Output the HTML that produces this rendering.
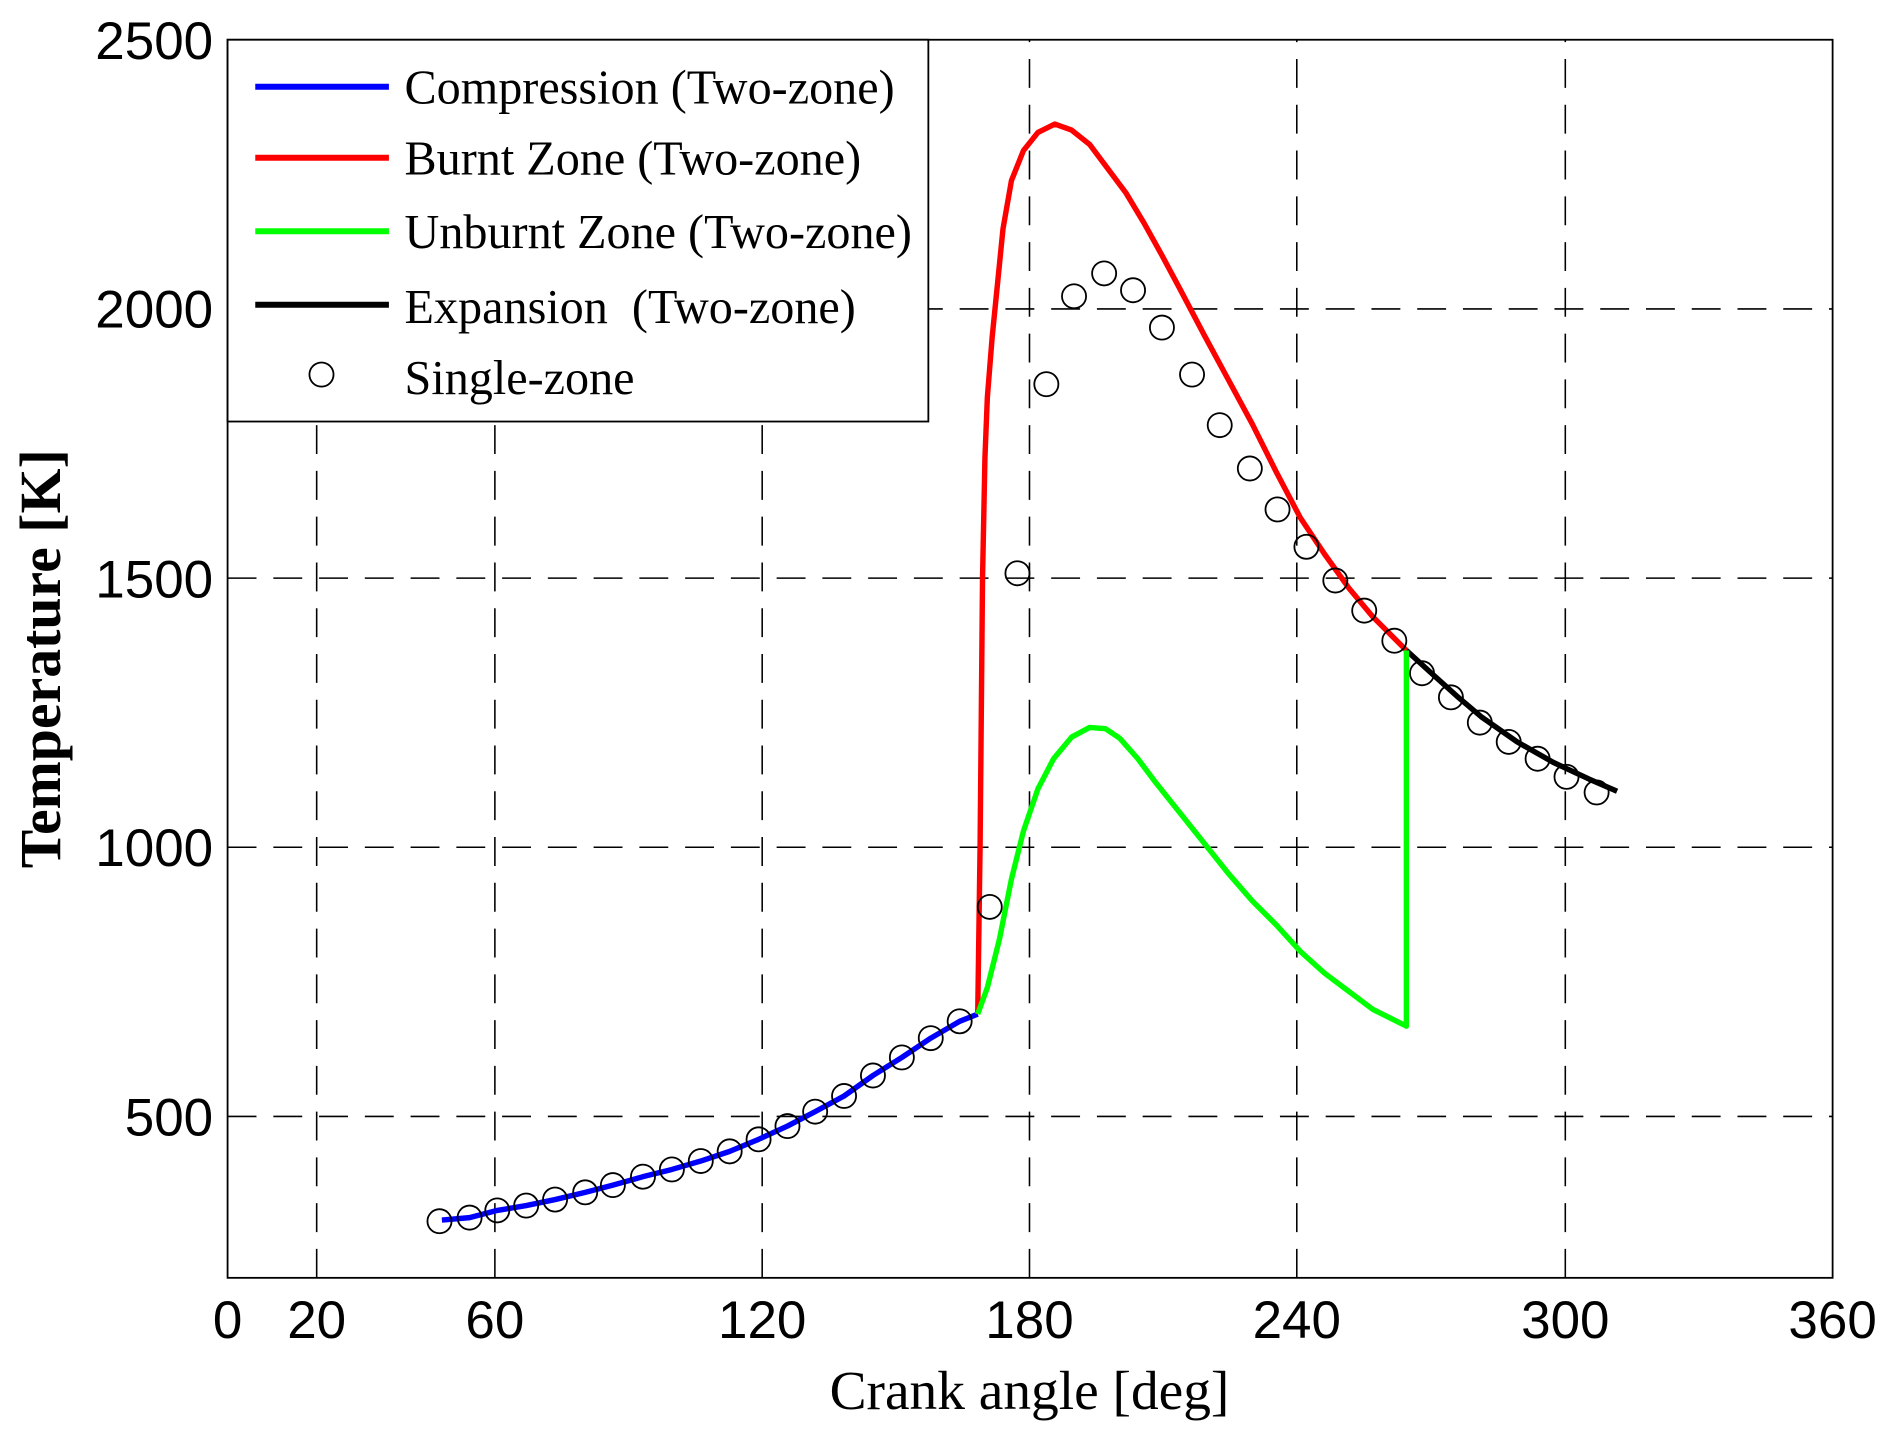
<!DOCTYPE html>
<html><head><meta charset="utf-8"><style>html,body{margin:0;padding:0;background:#fff}svg{display:block}</style></head>
<body>
<svg width="1888" height="1432" viewBox="0 0 1568 1189" preserveAspectRatio="none" xmlns="http://www.w3.org/2000/svg">
<rect width="1568" height="1189" fill="#fff"/>
<g stroke="#000" stroke-width="1.3" stroke-dasharray="24,14" fill="none">
<line x1="263" y1="1061" x2="263" y2="33"/><line x1="411" y1="1061" x2="411" y2="33"/>
<line x1="633" y1="1061" x2="633" y2="33"/><line x1="855" y1="1061" x2="855" y2="33"/>
<line x1="1077" y1="1061" x2="1077" y2="33"/><line x1="1300" y1="1061" x2="1300" y2="33"/>
<line x1="189" y1="256.5" x2="1522" y2="256.5"/><line x1="189" y1="480" x2="1522" y2="480"/>
<line x1="189" y1="703.5" x2="1522" y2="703.5"/><line x1="189" y1="927" x2="1522" y2="927"/>
</g>
<g fill="none" stroke-width="4.5" stroke-linejoin="round">
<polyline stroke="#0000ff" points="367,1013 390,1011 413,1005 437,1001 461,996 486,990 509,984 534,977 558,971 582,964 606,956 630,946 654,935 677,923 701,910 725,893 749,878 773,862 797,848 812,842"/>
<polyline stroke="#ff0000" points="812,842 814,700 816,480 818,380 820,330 824,280 828,240 833,190 840,150 850,125 862,110 876,103 890,108 905,120 920,140 935,160 950,185 965,212 980,240 1000,278 1020,315 1040,352 1060,392 1080,430 1100,460 1120,488 1140,512 1168,540"/>
<polyline stroke="#000" points="1168,540 1190,560 1210,578 1230,595 1260,616 1290,633 1320,647 1343,657"/>
<polyline stroke="#00ff00" points="812,842 820,820 830,780 840,730 850,690 862,655 875,630 890,612 905,604 918,605 930,613 945,630 960,650 980,675 1000,700 1020,725 1040,748 1060,768 1080,790 1100,808 1120,823 1140,838 1160,848 1168,852 1168,540"/>
</g>
<g fill="none" stroke="#000" stroke-width="1.5">
<circle cx="365" cy="1014" r="10"/><circle cx="390" cy="1011" r="10"/><circle cx="413" cy="1005" r="10"/><circle cx="437" cy="1001" r="10"/><circle cx="461" cy="996" r="10"/><circle cx="486" cy="990" r="10"/><circle cx="509" cy="984" r="10"/><circle cx="534" cy="977" r="10"/><circle cx="558" cy="971" r="10"/><circle cx="582" cy="964" r="10"/><circle cx="606" cy="956" r="10"/><circle cx="630" cy="946" r="10"/><circle cx="654" cy="935" r="10"/><circle cx="677" cy="923" r="10"/><circle cx="701" cy="910" r="10"/><circle cx="725" cy="893" r="10"/><circle cx="749" cy="878" r="10"/><circle cx="773" cy="862" r="10"/><circle cx="797" cy="848" r="10"/>
<circle cx="822" cy="753" r="10"/><circle cx="845" cy="476" r="10"/><circle cx="869" cy="319" r="10"/><circle cx="892" cy="246" r="10"/><circle cx="917" cy="227" r="10"/><circle cx="941" cy="241" r="10"/><circle cx="965" cy="272" r="10"/><circle cx="990" cy="311" r="10"/><circle cx="1013" cy="353" r="10"/><circle cx="1038" cy="389" r="10"/><circle cx="1061" cy="423" r="10"/><circle cx="1085" cy="454" r="10"/><circle cx="1109" cy="482" r="10"/><circle cx="1133" cy="507" r="10"/><circle cx="1158" cy="532" r="10"/><circle cx="1181" cy="559" r="10"/><circle cx="1205" cy="579" r="10"/><circle cx="1229" cy="600" r="10"/><circle cx="1253" cy="616" r="10"/><circle cx="1277" cy="630" r="10"/><circle cx="1301" cy="645" r="10"/><circle cx="1326" cy="658" r="10"/>
</g>
<rect x="189" y="33" width="1333" height="1028" fill="none" stroke="#000" stroke-width="1.5"/>
<rect x="189" y="33" width="582" height="317" fill="#fff" stroke="#000" stroke-width="1.5"/>
<g stroke-width="5">
<line x1="212" y1="72" x2="323" y2="72" stroke="#0000ff"/>
<line x1="212" y1="131" x2="323" y2="131" stroke="#ff0000"/>
<line x1="212" y1="192" x2="323" y2="192" stroke="#00ff00"/>
<line x1="212" y1="253" x2="323" y2="253" stroke="#000"/>
</g>
<circle cx="267" cy="311" r="10" fill="none" stroke="#000" stroke-width="1.5"/>
<g font-family="'Liberation Serif',serif" font-size="40" fill="#000">
<text x="336" y="86">Compression (Two-zone)</text>
<text x="336" y="145">Burnt Zone (Two-zone)</text>
<text x="336" y="206">Unburnt Zone (Two-zone)</text>
<text x="336" y="268" xml:space="preserve">Expansion  (Two-zone)</text>
<text x="336" y="327">Single-zone</text>
</g>
<g font-family="'Liberation Sans',sans-serif" font-size="44" fill="#000">
<g text-anchor="end">
<text x="177" y="49">2500</text><text x="177" y="272">2000</text><text x="177" y="496">1500</text><text x="177" y="719">1000</text><text x="177" y="943">500</text>
</g>
<g text-anchor="middle">
<text x="189" y="1111">0</text><text x="263" y="1111">20</text><text x="411" y="1111">60</text><text x="633" y="1111">120</text><text x="855" y="1111">180</text><text x="1077" y="1111">240</text><text x="1300" y="1111">300</text><text x="1522" y="1111">360</text>
</g>
</g>
<text x="855" y="1170" text-anchor="middle" font-family="'Liberation Serif',serif" font-size="46">Crank angle [deg]</text>
<text transform="translate(50,547) rotate(-90)" text-anchor="middle" font-family="'Liberation Serif',serif" font-weight="bold" font-size="48">Temperature [K]</text>
</svg>
</body></html>
